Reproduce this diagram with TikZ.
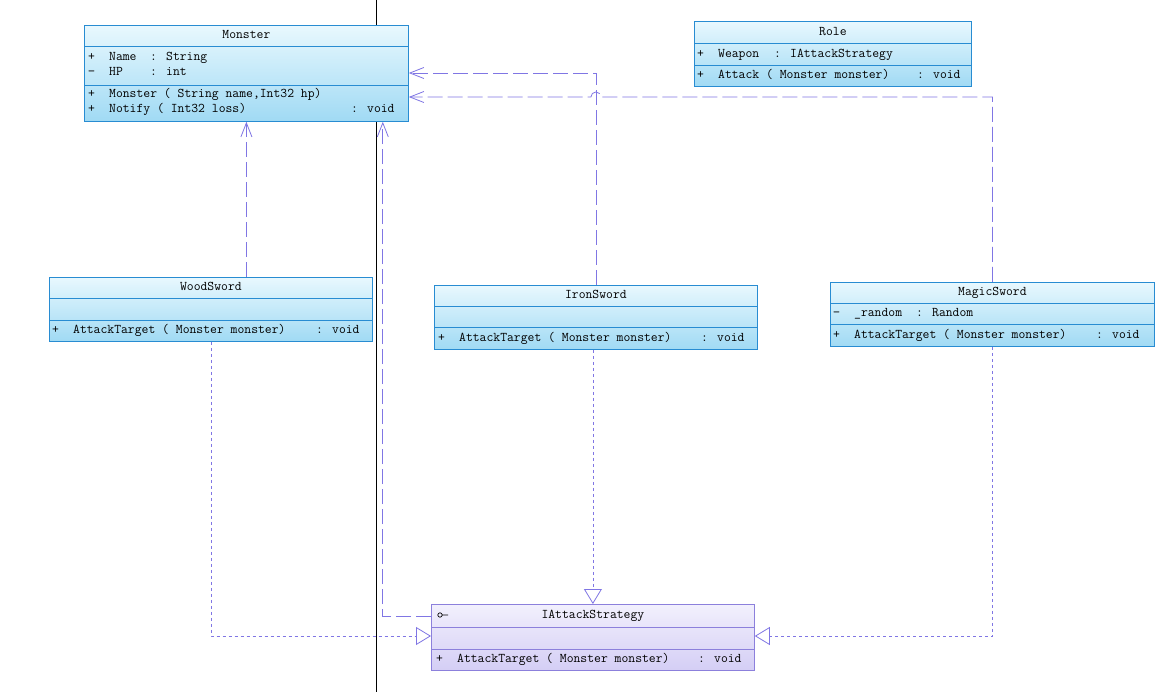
\documentclass[tikz,border=0pt]{standalone}
\usepackage{fontspec}
\usetikzlibrary{arrows.meta}

\definecolor{boxline}{RGB}{40,140,210}
\definecolor{boxtop}{RGB}{232,248,254}
\definecolor{boxbot}{RGB}{160,218,244}
\definecolor{ifaceline}{RGB}{140,128,220}
\definecolor{ifacetop}{RGB}{242,240,253}
\definecolor{ifacebot}{RGB}{212,206,245}
\definecolor{linkcol}{RGB}{128,118,228}

\newcommand{\umlfont}{\ttfamily\fontsize{13.3}{15}\selectfont}
\newcommand{\umlvis}[1]{\makebox[21pt][l]{#1}}

\tikzset{
  classbox/.style={draw=boxline, top color=boxtop, bottom color=boxbot, anchor=north west, inner sep=0pt, line width=0.8pt},
  ifacebox/.style={draw=ifaceline, top color=ifacetop, bottom color=ifacebot, anchor=north west, inner sep=0pt, line width=0.8pt},
  member/.style={anchor=west, inner sep=0pt, text height=9pt, text depth=2.5pt, font=\umlfont},
  classname/.style={inner sep=0pt, text height=9pt, text depth=2.5pt, font=\umlfont},
  depend/.style={draw=linkcol, line width=0.8pt, dash pattern=on 15pt off 5pt, -{Straight Barb[length=14pt,width=11pt]}},
  realize/.style={draw=linkcol, line width=0.8pt, dash pattern=on 3pt off 3pt, -{Triangle[open,length=15pt,width=18pt]}}
}

\begin{document}
\begin{tikzpicture}[x=1pt, y=-1pt]
  \useasboundingbox[fill=white] (0,0) rectangle (1171,692);
  \draw[line width=1pt] (376,0) -- (376,692);

  % Monster
  \node[classbox, minimum width=324, minimum height=96] (monster) at (84,25) {};
  \draw[boxline, line width=0.8pt] ([yshift=-21]monster.north west) -- ([yshift=-21]monster.north east);
  \draw[boxline, line width=0.8pt] ([yshift=-60]monster.north west) -- ([yshift=-60]monster.north east);
  \node[classname] (monsterTitle) at (monster.north |- 0,35) {Monster};
  \node[member] (monsterName) at (88,57) {\umlvis{+}Name};
  \node[member] (monsterNameT) at (150,57) {: String};
  \node[member] (monsterHp) at (88,72) {\umlvis{−}HP};
  \node[member] (monsterHpT) at (150,72) {: int};
  \node[member] (monsterCtor) at (88,94) {\umlvis{+}Monster ( String name,Int32 hp)};
  \node[member] (monsterNotify) at (88,109) {\umlvis{+}Notify ( Int32 loss)};
  \node[member] (monsterNotifyT) at (351,109) {: void};

  % Role
  \node[classbox, minimum width=277, minimum height=65] (role) at (694,21) {};
  \draw[boxline, line width=0.8pt] ([yshift=-22]role.north west) -- ([yshift=-22]role.north east);
  \draw[boxline, line width=0.8pt] ([yshift=-44]role.north west) -- ([yshift=-44]role.north east);
  \node[classname] (roleTitle) at (role.north |- 0,32) {Role};
  \node[member] (roleWeapon) at (697,54) {\umlvis{+}Weapon};
  \node[member] (roleWeaponT) at (774,54) {: IAttackStrategy};
  \node[member] (roleAttack) at (697,75) {\umlvis{+}Attack ( Monster monster)};
  \node[member] (roleAttackT) at (917,75) {: void};

  % WoodSword
  \node[classbox, minimum width=323, minimum height=64] (wood) at (49,277) {};
  \draw[boxline, line width=0.8pt] ([yshift=-21]wood.north west) -- ([yshift=-21]wood.north east);
  \draw[boxline, line width=0.8pt] ([yshift=-43]wood.north west) -- ([yshift=-43]wood.north east);
  \node[classname] (woodTitle) at (wood.north |- 0,287) {WoodSword};
  \node[member] (woodAttack) at (52,330) {\umlvis{+}AttackTarget ( Monster monster)};
  \node[member] (woodAttackT) at (316,330) {: void};

  % IronSword
  \node[classbox, minimum width=323, minimum height=64] (iron) at (434,285) {};
  \draw[boxline, line width=0.8pt] ([yshift=-21]iron.north west) -- ([yshift=-21]iron.north east);
  \draw[boxline, line width=0.8pt] ([yshift=-42]iron.north west) -- ([yshift=-42]iron.north east);
  \node[classname] (ironTitle) at (iron.north |- 0,295) {IronSword};
  \node[member] (ironAttack) at (438,338) {\umlvis{+}AttackTarget ( Monster monster)};
  \node[member] (ironAttackT) at (701,338) {: void};

  % MagicSword
  \node[classbox, minimum width=324, minimum height=64] (magic) at (830,282) {};
  \draw[boxline, line width=0.8pt] ([yshift=-21]magic.north west) -- ([yshift=-21]magic.north east);
  \draw[boxline, line width=0.8pt] ([yshift=-42]magic.north west) -- ([yshift=-42]magic.north east);
  \node[classname] (magicTitle) at (magic.north |- 0,292) {MagicSword};
  \node[member] (magicRandom) at (833,313) {\umlvis{−}\_random};
  \node[member] (magicRandomT) at (916,313) {: Random};
  \node[member] (magicAttack) at (833,335) {\umlvis{+}AttackTarget ( Monster monster)};
  \node[member] (magicAttackT) at (1096,335) {: void};

  % IAttackStrategy
  \node[ifacebox, minimum width=323, minimum height=66] (iface) at (431,604) {};
  \draw[ifaceline, line width=0.8pt] ([yshift=-23]iface.north west) -- ([yshift=-23]iface.north east);
  \draw[ifaceline, line width=0.8pt] ([yshift=-45]iface.north west) -- ([yshift=-45]iface.north east);
  \node[classname] (ifaceTitle) at (iface.north |- 0,615) {IAttackStrategy};
  \draw[line width=0.7pt] (440,615) circle[radius=2.2pt] (442.2,615) -- (448,615);
  \node[member] (ifaceAttack) at (436,659) {\umlvis{+}AttackTarget ( Monster monster)};
  \node[member] (ifaceAttackT) at (698,659) {: void};

  % dependencies
  \draw[depend] (monster.south |- wood.north) -- (monster.south);
  \draw[depend] ([yshift=-12]iface.north west) -| ([xshift=-26]monster.south east);
  \draw[depend] (iron.north) |- ([yshift=-48]monster.north east);
  \coordinate (hop) at (iron.north |- 0,97);
  \draw[depend] (magic.north) |- ([xshift=5]hop) arc[start angle=0, end angle=180, radius=5pt] -- ([yshift=-72]monster.north east);

  % realizations
  \draw[realize] (wood.south) |- ([yshift=-32]iface.north west);
  \draw[realize] (iface.north |- iron.south) -- (iface.north);
  \draw[realize] (magic.south) |- ([yshift=-32]iface.north east);
\end{tikzpicture}
\end{document}
